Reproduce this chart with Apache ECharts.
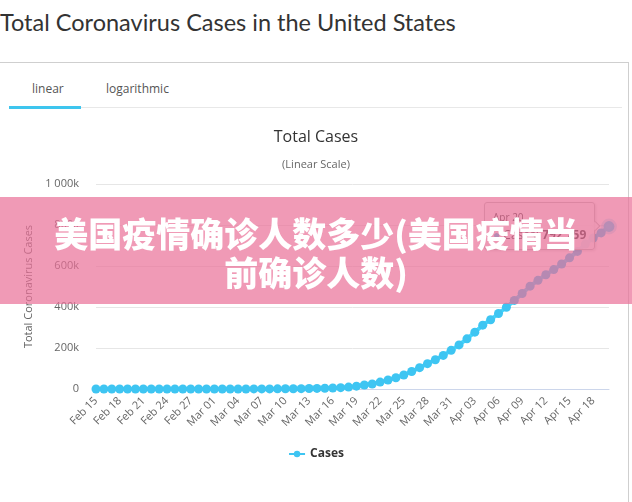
<!DOCTYPE html>
<html>
<head>
<meta charset="utf-8">
<script src="https://cdn.jsdelivr.net/npm/echarts@6/dist/echarts.min.js"></script>
<style>
  html, body { margin: 0; padding: 0; background: #fff; }
  body { width: 632px; height: 502px; position: relative; overflow: hidden; font-family: 'Open Sans', sans-serif; }
  .page-title { position: absolute; left: 0; top: 8px; margin: 0; font-family: Lato, sans-serif; font-weight: 400; font-size: 23.5px; color: #333; white-space: nowrap; }
  .panel { position: absolute; left: -1px; top: 62px; width: 628px; height: 460px; border: 1px solid #cfcfcf; }
  .tab { position: absolute; top: 80px; font-size: 12px; color: #555; }
  .tab-line { position: absolute; left: 81px; top: 107px; width: 541px; height: 1px; background: #e8e8e8; }
  .tab-active { position: absolute; left: 9px; top: 106px; width: 72px; height: 3px; background: #3ec5ee; }
  #chart { position: absolute; left: 0; top: 0; width: 632px; height: 502px; }
  .banner { position: absolute; left: 0; top: 197px; width: 632px; height: 107px; z-index: 99999999;
    background: rgba(233, 111, 151, 0.7); color: #fff; text-align: center; box-sizing: border-box; padding-top: 16px;
    font-family: 'Noto Sans CJK SC', sans-serif; font-weight: 900; font-size: 34px; line-height: 39px; }
</style>
</head>
<body>
<h1 class="page-title">Total Coronavirus Cases in the United States</h1>
<div class="panel"></div>
<div class="tab" style="left:32px">linear</div>
<div class="tab" style="left:106px">logarithmic</div>
<div class="tab-line"></div>
<div class="tab-active"></div>
<div id="chart"></div>
<div class="banner">美国疫情确诊人数多少(美国疫情当<br>前确诊人数)</div>
<script>
  var dates = [
    'Feb 15', 'Feb 16', 'Feb 17', 'Feb 18', 'Feb 19', 'Feb 20', 'Feb 21', 'Feb 22', 'Feb 23', 'Feb 24',
    'Feb 25', 'Feb 26', 'Feb 27', 'Feb 28', 'Feb 29', 'Mar 01', 'Mar 02', 'Mar 03', 'Mar 04', 'Mar 05',
    'Mar 06', 'Mar 07', 'Mar 08', 'Mar 09', 'Mar 10', 'Mar 11', 'Mar 12', 'Mar 13', 'Mar 14', 'Mar 15',
    'Mar 16', 'Mar 17', 'Mar 18', 'Mar 19', 'Mar 20', 'Mar 21', 'Mar 22', 'Mar 23', 'Mar 24', 'Mar 25',
    'Mar 26', 'Mar 27', 'Mar 28', 'Mar 29', 'Mar 30', 'Mar 31', 'Apr 01', 'Apr 02', 'Apr 03', 'Apr 04',
    'Apr 05', 'Apr 06', 'Apr 07', 'Apr 08', 'Apr 09', 'Apr 10', 'Apr 11', 'Apr 12', 'Apr 13', 'Apr 14',
    'Apr 15', 'Apr 16', 'Apr 17', 'Apr 18', 'Apr 19', 'Apr 20'
  ]
  var cases = [
    15, 15, 15, 15, 15, 15, 35, 35, 35, 53,
    57, 60, 60, 63, 68, 75, 100, 124, 158, 221,
    319, 435, 541, 704, 994, 1301, 1697, 2247, 2943, 3680,
    4663, 6411, 9197, 13779, 19367, 24192, 33592, 43781, 54856, 68211,
    85435, 104126, 123578, 142538, 163955, 188530, 215238, 244678, 277205, 311301,
    337933, 368196, 398809, 432132, 466033, 501560, 529951, 557571, 582594, 609516,
    639664, 671331, 706832, 736402, 761363, 792759
  ]
  var yTicks = [0, 200000, 400000, 600000, 800000, 1000000]

  var lineColor = '#3ec5f2'
  var font = "'Open Sans', sans-serif"

  function sep(n) {
    return String(n).replace(/\B(?=(\d{3})+(?!\d))/g, ' ')
  }

  var chart = echarts.init(document.getElementById('chart'))
  chart.setOption({
    animation: false,
    textStyle: { fontFamily: font },
    title: {
      text: 'Total Cases',
      subtext: '(Linear Scale)',
      left: 'center',
      top: 124,
      itemGap: 14,
      textStyle: { fontSize: 16, fontWeight: 'normal', color: '#333', fontFamily: font },
      subtextStyle: { fontSize: 11, color: '#666', fontFamily: font }
    },
    legend: {
      bottom: 37,
      left: 'center',
      itemWidth: 16,
      itemHeight: 8,
      textStyle: { fontSize: 12, fontWeight: 'bold', color: '#333', fontFamily: font },
      data: ['Cases']
    },
    tooltip: {
      trigger: 'item',
      position: 'left',
      transitionDuration: 0,
      backgroundColor: 'rgba(247,247,247,0.85)',
      borderColor: '#bbb',
      borderWidth: 1,
      padding: [5, 8],
      textStyle: { fontSize: 12, color: '#333', fontFamily: font },
      extraCssText: 'box-shadow:1px 1px 3px rgba(0,0,0,0.15);border-radius:3px;',
      formatter: function (p) {
        return '<span style="font-size:10px">' + p.name + '</span><br/>' +
          '<span style="color:' + lineColor + '">\u25CF</span> Cases: <b>' + sep(p.value) + '</b>'
      }
    },
    grid: { left: 96, right: 23, top: 184, bottom: 113 },
    xAxis: {
      type: 'category',
      boundaryGap: false,
      data: dates,
      axisLine: { lineStyle: { color: '#ccd6eb' } },
      axisTick: { show: false },
      axisLabel: { interval: 2, rotate: 45, margin: 10, fontSize: 11, color: '#666' }
    },
    yAxis: {
      type: 'value',
      min: yTicks[0],
      max: yTicks[yTicks.length - 1],
      interval: yTicks[1] - yTicks[0],
      name: 'Total Coronavirus Cases',
      nameLocation: 'middle',
      nameGap: 60,
      nameTextStyle: { fontSize: 11, color: '#666' },
      axisLine: { show: false },
      axisTick: { show: false },
      axisLabel: {
        margin: 17,
        fontSize: 11,
        color: '#666',
        formatter: function (v) { return v === 0 ? '0' : sep(v / 1000) + 'k' }
      },
      splitLine: { lineStyle: { color: '#e6e6e6' } }
    },
    series: [{
      name: 'Cases',
      type: 'line',
      data: cases,
      symbol: 'circle',
      symbolSize: 9,
      showAllSymbol: true,
      lineStyle: { color: lineColor, width: 4 },
      itemStyle: { color: lineColor },
      emphasis: {
        scale: 1.2,
        lineStyle: { width: 4 },
        itemStyle: { borderColor: 'rgba(62,197,242,0.3)', borderWidth: 5 }
      }
    }]
  })

  chart.dispatchAction({ type: 'highlight', seriesIndex: 0, dataIndex: cases.length - 1 })
  chart.dispatchAction({ type: 'showTip', seriesIndex: 0, dataIndex: cases.length - 1 })
</script>
</body>
</html>
